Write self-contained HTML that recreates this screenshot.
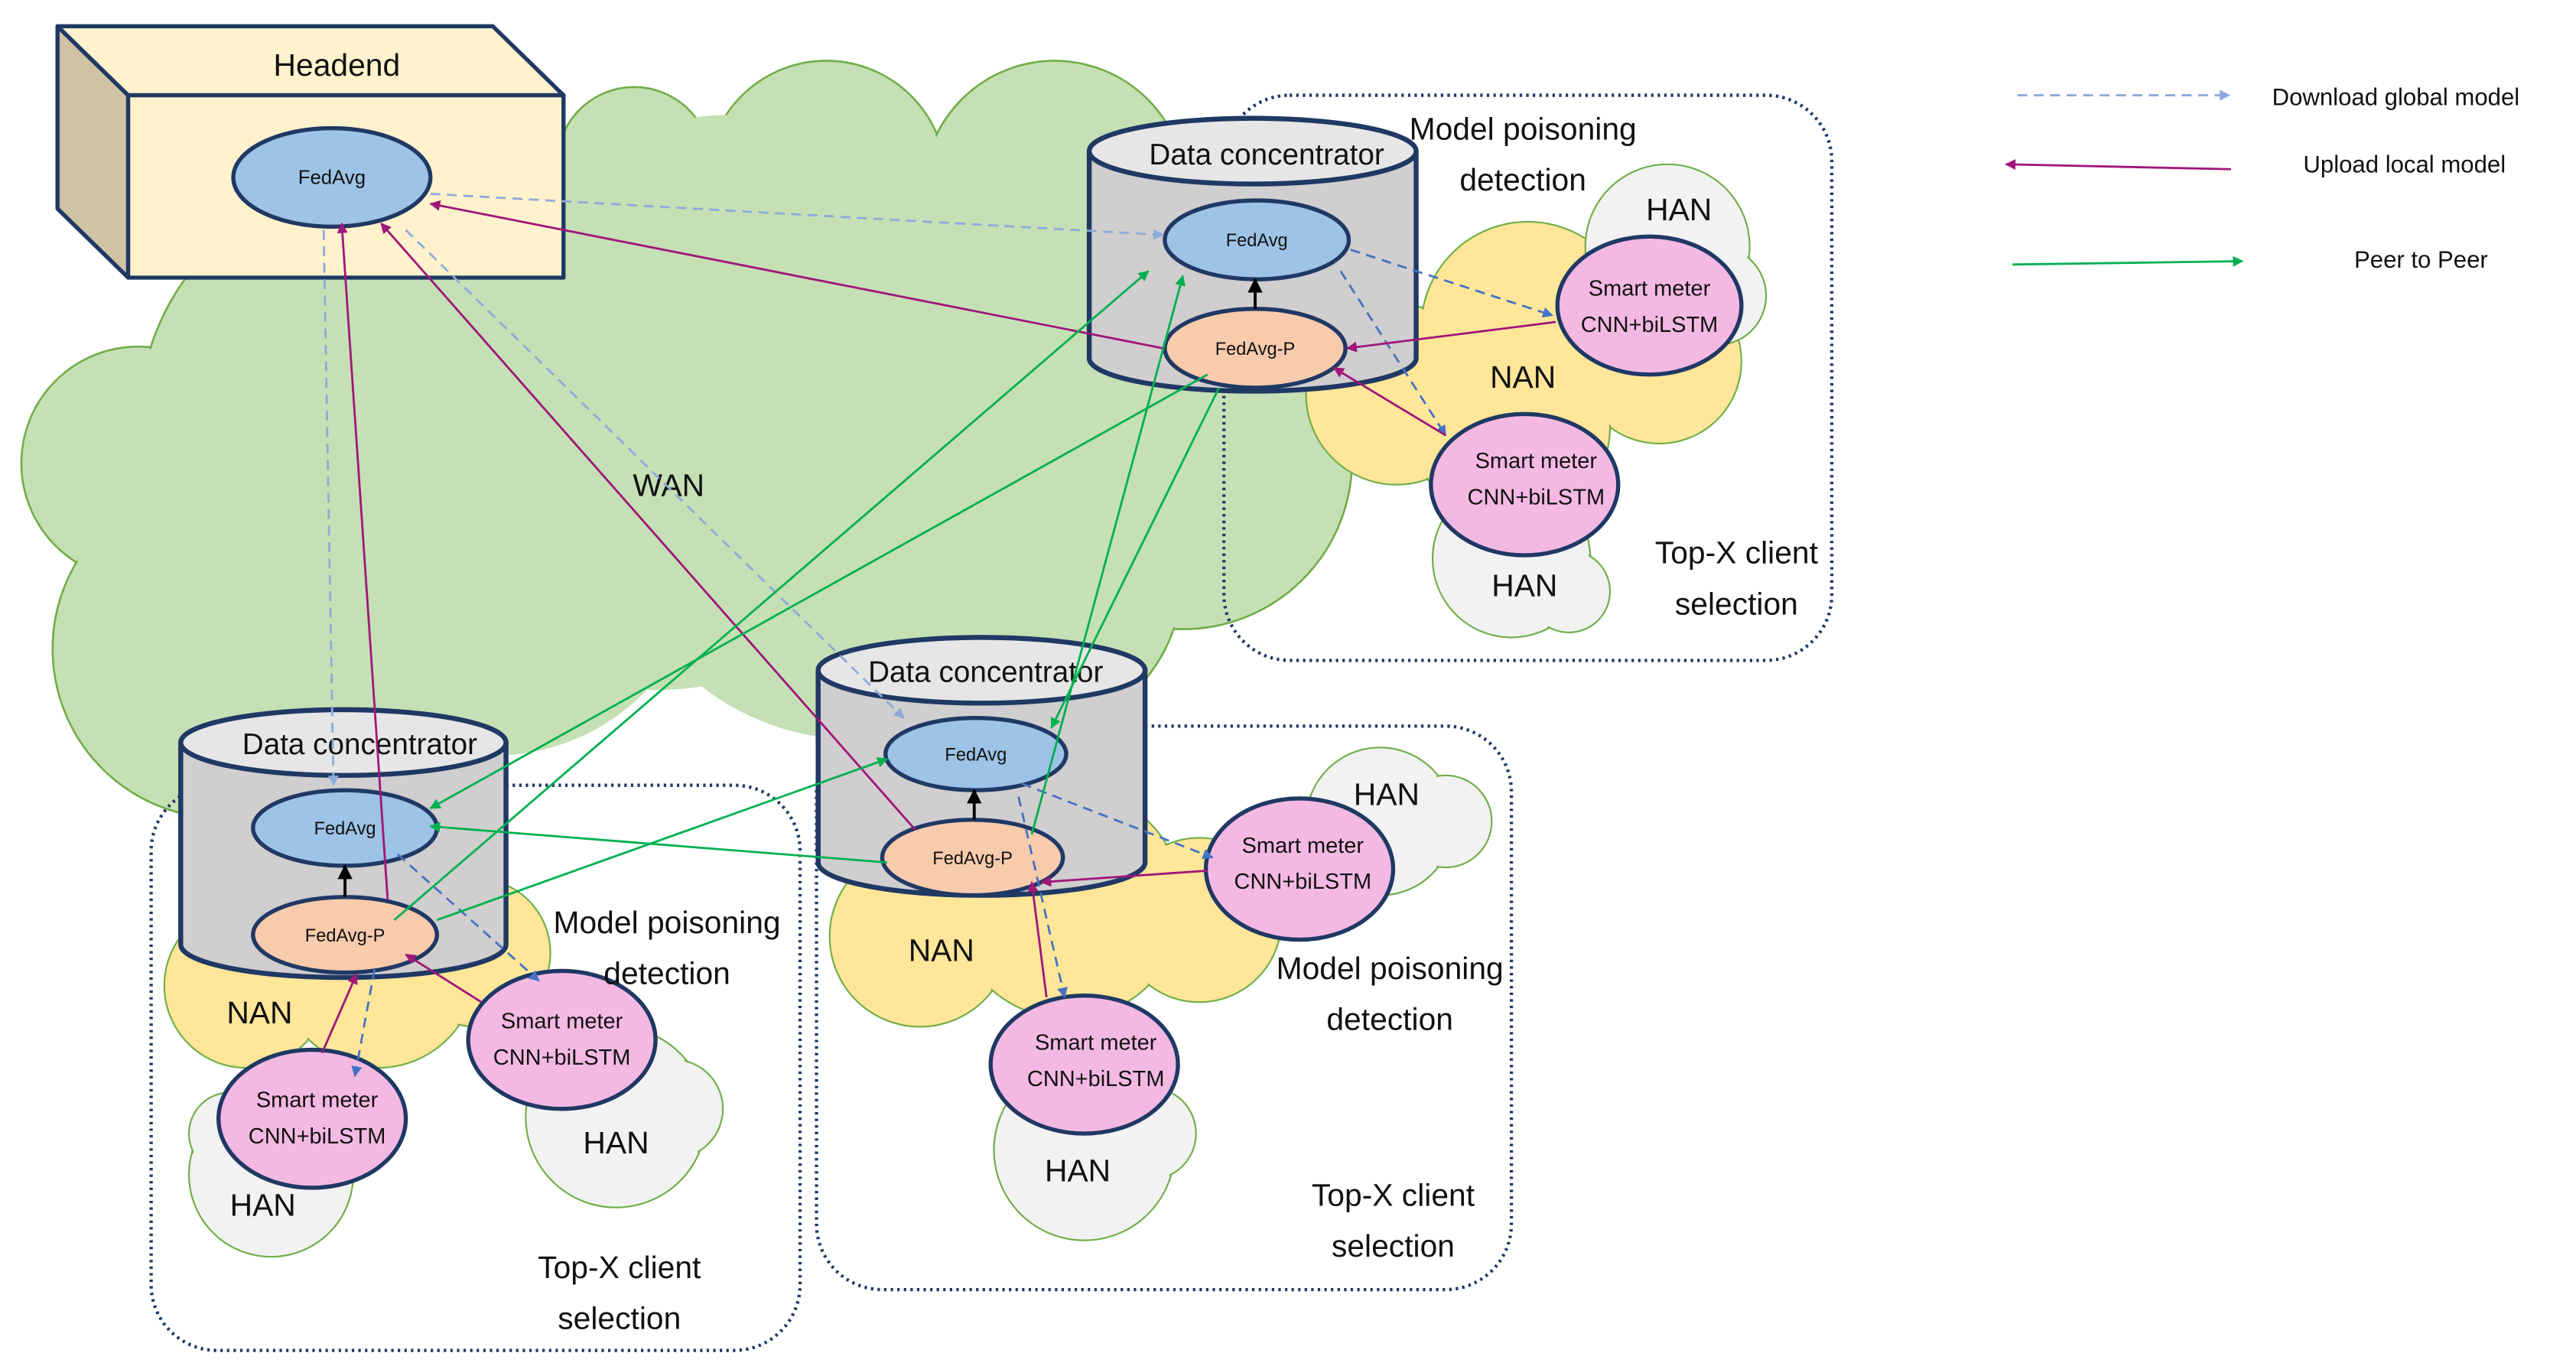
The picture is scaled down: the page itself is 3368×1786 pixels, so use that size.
<!DOCTYPE html>
<html><head><meta charset="utf-8"><style>html,body{margin:0;padding:0;background:#fff}svg{display:block}text{font-family:"Liberation Sans",sans-serif;fill:#111}</style></head>
<body>
<svg width="3368" height="1786" viewBox="0 0 1568 831.5" xmlns="http://www.w3.org/2000/svg">
<defs>
<marker id="mb" viewBox="0 0 10 10" refX="9" refY="5" markerWidth="5" markerHeight="5" orient="auto-start-reverse"><path d="M0,0L10,5L0,10z" fill="#8eaadb"/></marker>
<marker id="md" viewBox="0 0 10 10" refX="9" refY="5" markerWidth="5" markerHeight="5" orient="auto-start-reverse"><path d="M0,0L10,5L0,10z" fill="#4472c4"/></marker>
<marker id="mp" viewBox="0 0 10 10" refX="9" refY="5" markerWidth="5" markerHeight="5" orient="auto-start-reverse"><path d="M0,0L10,5L0,10z" fill="#a0167a"/></marker>
<marker id="mg" viewBox="0 0 10 10" refX="9" refY="5" markerWidth="5" markerHeight="5" orient="auto-start-reverse"><path d="M0,0L10,5L0,10z" fill="#00b050"/></marker>
<marker id="mk" viewBox="0 0 10 10" refX="9" refY="5" markerWidth="5" markerHeight="5" orient="auto"><path d="M0,0L10,5L0,10z" fill="#000"/></marker>
</defs>

<!-- WAN cloud -->
<g stroke="#70ad47" stroke-width="1.2" fill="#c5e0b4">
<circle cx="386" cy="100" r="47"/><circle cx="503" cy="110" r="73"/><circle cx="642" cy="117" r="80"/>
<circle cx="84" cy="282" r="71"/><circle cx="135" cy="395" r="103"/><circle cx="230" cy="255" r="145"/>
<circle cx="720" cy="280" r="103"/><circle cx="620" cy="350" r="100"/>
</g>
<g fill="#c5e0b4">
<circle cx="386" cy="100" r="46"/><circle cx="503" cy="110" r="72"/><circle cx="642" cy="117" r="79"/>
<circle cx="84" cy="282" r="70"/><circle cx="135" cy="395" r="102"/><circle cx="230" cy="255" r="144"/>
<circle cx="720" cy="280" r="102"/><circle cx="620" cy="350" r="99"/>
<circle cx="400" cy="250" r="170"/><circle cx="300" cy="330" r="130"/><circle cx="520" cy="300" r="150"/><circle cx="600" cy="200" r="120"/><circle cx="440" cy="160" r="90"/>
</g>

<!-- NAN clouds -->
<g stroke="#70ad47" stroke-width="1" fill="#ffe699">
<circle cx="850" cy="240" r="55"/><circle cx="930" cy="200" r="65"/><circle cx="1010" cy="220" r="50"/><circle cx="920" cy="260" r="60"/>
<circle cx="150" cy="600" r="50"/><circle cx="230" cy="590" r="60"/><circle cx="290" cy="580" r="45"/>
<circle cx="560" cy="570" r="55"/><circle cx="650" cy="550" r="70"/><circle cx="730" cy="560" r="50"/>
</g>
<g fill="#ffe699">
<circle cx="850" cy="240" r="54"/><circle cx="930" cy="200" r="64"/><circle cx="1010" cy="220" r="49"/><circle cx="920" cy="260" r="59"/>
<circle cx="150" cy="600" r="49"/><circle cx="230" cy="590" r="59"/><circle cx="290" cy="580" r="44"/>
<circle cx="560" cy="570" r="54"/><circle cx="650" cy="550" r="69"/><circle cx="730" cy="560" r="49"/>
</g>

<!-- HAN clouds -->
<g stroke="#70ad47" stroke-width="1" fill="#f2f2f2">
<circle cx="1015" cy="150" r="50"/><circle cx="1045" cy="180" r="30"/>
<circle cx="920" cy="340" r="48"/><circle cx="955" cy="360" r="25"/>
<circle cx="840" cy="500" r="45"/><circle cx="880" cy="500" r="28"/>
<circle cx="660" cy="700" r="55"/><circle cx="700" cy="690" r="28"/>
<circle cx="375" cy="680" r="55"/><circle cx="410" cy="675" r="30"/>
<circle cx="165" cy="715" r="50"/><circle cx="140" cy="690" r="25"/>
</g>
<g fill="#f2f2f2">
<circle cx="1015" cy="150" r="49"/><circle cx="1045" cy="180" r="29"/>
<circle cx="920" cy="340" r="47"/><circle cx="955" cy="360" r="24"/>
<circle cx="840" cy="500" r="44"/><circle cx="880" cy="500" r="27"/>
<circle cx="660" cy="700" r="54"/><circle cx="700" cy="690" r="27"/>
<circle cx="375" cy="680" r="54"/><circle cx="410" cy="675" r="29"/>
<circle cx="165" cy="715" r="49"/><circle cx="140" cy="690" r="24"/>
</g>

<!-- dotted boxes -->
<g fill="none" stroke="#1f3864" stroke-width="2" stroke-dasharray="1.5 2.5">
<rect x="745" y="58" width="370" height="344" rx="40"/>
<rect x="92" y="478" width="395" height="344" rx="40"/>
<rect x="497" y="442" width="423" height="343" rx="40"/>
</g>

<!-- Headend -->
<g stroke="#1f3864" stroke-width="2.5" stroke-linejoin="round">
<polygon points="35,16 78,58 78,169 35,127" fill="#cfc3a3"/>
<polygon points="35,16 300,16 343,58 78,58" fill="#fff2cc"/>
<rect x="78" y="58" width="265" height="111" fill="#fff2cc"/>
</g>
<text x="205" y="46" font-size="19" text-anchor="middle">Headend</text>

<!-- Cylinders -->
<g stroke="#1f3864" stroke-width="3">
<path d="M663,92 V218 A99,20 0 0 0 862,218 V92" fill="#d0cece"/><ellipse cx="762.5" cy="92" rx="99.5" ry="20" fill="#e7e6e6"/>
<path d="M498,408 V525 A99.5,20 0 0 0 697,525 V408" fill="#d0cece"/><ellipse cx="597.5" cy="408" rx="99.5" ry="20" fill="#e7e6e6"/>
<path d="M110,452 V575 A99,20 0 0 0 308,575 V452" fill="#d0cece"/><ellipse cx="209" cy="452" rx="99" ry="20" fill="#e7e6e6"/>
</g>
<g font-size="18" text-anchor="middle">
<text x="771" y="100">Data concentrator</text><text x="600" y="415">Data concentrator</text><text x="219" y="459">Data concentrator</text>
</g>

<!-- ellipses -->
<g stroke="#1f3864" stroke-width="2.5">
<ellipse cx="202" cy="108" rx="60" ry="30" fill="#9dc3e6"/>
<ellipse cx="765" cy="146" rx="56" ry="24" fill="#9dc3e6"/><ellipse cx="764" cy="212" rx="55" ry="24" fill="#f8cbad"/>
<ellipse cx="594" cy="459" rx="55" ry="22" fill="#9dc3e6"/><ellipse cx="592" cy="522" rx="55" ry="23" fill="#f8cbad"/>
<ellipse cx="210" cy="504" rx="56" ry="23" fill="#9dc3e6"/><ellipse cx="210" cy="569" rx="56" ry="23" fill="#f8cbad"/>
<ellipse cx="1004" cy="186" rx="56" ry="42" fill="#f4b9e3"/><ellipse cx="928" cy="295" rx="57" ry="43" fill="#f4b9e3"/>
<ellipse cx="791" cy="529" rx="57" ry="43" fill="#f4b9e3"/><ellipse cx="660" cy="648" rx="57" ry="42" fill="#f4b9e3"/>
<ellipse cx="342" cy="633" rx="57" ry="42" fill="#f4b9e3"/><ellipse cx="190" cy="681" rx="57" ry="42" fill="#f4b9e3"/>
</g>
<g font-size="11" text-anchor="middle">
<text x="202" y="112" font-size="12">FedAvg</text>
<text x="765" y="150">FedAvg</text><text x="764" y="216">FedAvg-P</text>
<text x="594" y="463">FedAvg</text><text x="592" y="526">FedAvg-P</text>
<text x="210" y="508">FedAvg</text><text x="210" y="573">FedAvg-P</text>
</g>
<g font-size="13.5" text-anchor="middle">
<text x="1004" y="180">Smart meter</text><text x="1004" y="202">CNN+biLSTM</text>
<text x="935" y="285">Smart meter</text><text x="935" y="307">CNN+biLSTM</text>
<text x="793" y="519">Smart meter</text><text x="793" y="541">CNN+biLSTM</text>
<text x="667" y="639">Smart meter</text><text x="667" y="661">CNN+biLSTM</text>
<text x="342" y="626">Smart meter</text><text x="342" y="648">CNN+biLSTM</text>
<text x="193" y="674">Smart meter</text><text x="193" y="696">CNN+biLSTM</text>
</g>

<!-- labels -->
<g font-size="19" text-anchor="middle">
<text x="407" y="302">WAN</text>
<text x="927" y="85">Model poisoning</text><text x="927" y="116">detection</text>
<text x="1022" y="134">HAN</text><text x="927" y="236">NAN</text><text x="928" y="363">HAN</text>
<text x="1057" y="343">Top-X client</text><text x="1057" y="374">selection</text>
<text x="844" y="490">HAN</text><text x="573" y="585">NAN</text>
<text x="846" y="596">Model poisoning</text><text x="846" y="627">detection</text>
<text x="656" y="719">HAN</text><text x="848" y="734">Top-X client</text><text x="848" y="765">selection</text>
<text x="406" y="568">Model poisoning</text><text x="406" y="599">detection</text>
<text x="158" y="623">NAN</text><text x="375" y="702">HAN</text><text x="160" y="740">HAN</text>
<text x="377" y="778">Top-X client</text><text x="377" y="809">selection</text>
</g>

<!-- connectors -->
<g fill="none" stroke-width="1.3">
<g stroke="#8eaadb" stroke-dasharray="6 4" marker-end="url(#mb)">
<line x1="262" y1="118" x2="708" y2="143"/><line x1="197" y1="140" x2="203" y2="478"/><line x1="247" y1="140" x2="550" y2="437"/>
</g>
<g stroke="#4472c4" stroke-dasharray="6 4" marker-end="url(#md)">
<line x1="822" y1="152" x2="945" y2="192"/><line x1="816" y1="165" x2="880" y2="265"/>
<line x1="622" y1="477" x2="738" y2="522"/><line x1="620" y1="485" x2="648" y2="607"/>
<line x1="242" y1="520" x2="328" y2="597"/><line x1="228" y1="590" x2="216" y2="655"/>
</g>
<g stroke="#a0167a" marker-end="url(#mp)">
<line x1="708" y1="212" x2="262" y2="124"/><line x1="557" y1="505" x2="232" y2="136"/><line x1="236" y1="548" x2="208" y2="136"/>
<line x1="947" y1="196" x2="820" y2="212"/><line x1="880" y1="265" x2="812" y2="224"/>
<line x1="735" y1="530" x2="634" y2="537"/><line x1="637" y1="607" x2="628" y2="537"/>
<line x1="293" y1="610" x2="247" y2="581"/><line x1="196" y1="641" x2="217" y2="593"/>
</g>
<g stroke="#00b050" marker-end="url(#mg)">
<line x1="735" y1="228" x2="262" y2="492"/><line x1="742" y1="236" x2="640" y2="443"/>
<line x1="240" y1="560" x2="699" y2="165"/><line x1="628" y1="508" x2="720" y2="168"/>
<line x1="540" y1="525" x2="262" y2="503"/><line x1="266" y1="560" x2="540" y2="462"/>
</g>
<g stroke="#000" stroke-width="1.8" marker-end="url(#mk)">
<line x1="764" y1="188" x2="764" y2="170"/><line x1="593" y1="499" x2="593" y2="481"/><line x1="210" y1="546" x2="210" y2="527"/>
</g>
</g>

<!-- legend -->
<line x1="1228" y1="58" x2="1357" y2="58" stroke="#8eaadb" stroke-width="1.3" stroke-dasharray="6 4" marker-end="url(#mb)"/>
<line x1="1358" y1="103" x2="1221" y2="100" stroke="#a0167a" stroke-width="1.3" marker-end="url(#mp)"/>
<line x1="1225" y1="161" x2="1365" y2="159" stroke="#00b050" stroke-width="1.3" marker-end="url(#mg)"/>
<g font-size="14.5">
<text x="1383" y="64">Download global model</text>
<text x="1402" y="105">Upload local model</text>
<text x="1433" y="163">Peer to Peer</text>
</g>
</svg>
</body></html>
